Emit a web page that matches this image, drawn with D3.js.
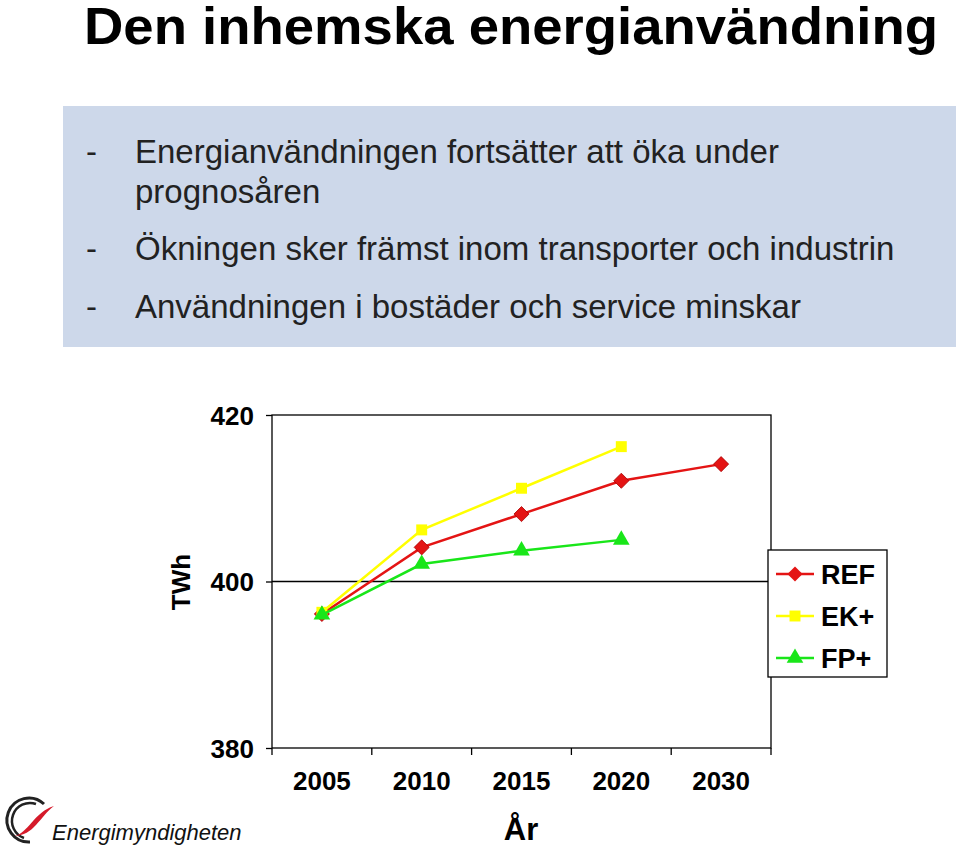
<!DOCTYPE html>
<html><head><meta charset="utf-8">
<script src="https://cdn.jsdelivr.net/npm/d3@7"></script>
<style>body{margin:0;background:#fff;font-family:Arial,"Liberation Sans",sans-serif}</style>
</head><body><div id="chart"></div>
<script>
// Data
const years = ["2005", "2010", "2015", "2020", "2030"];
const ref = [396.1, 404.1, 408.1, 412.1, 414.1];
const ekPlus = [396.3, 406.2, 411.2, 416.2];
const fpPlus = [396.0, 402.1, 403.7, 405.0];
const yTicks = [380, 400, 420];
const bullets = [
    ["Energianvändningen fortsätter att öka under", "prognosåren"],
    ["Ökningen sker främst inom transporter och industrin"],
    ["Användningen i bostäder och service minskar"]
];

const width = 960, height = 848;
const marginLeft = 272, marginRight = 189, marginTop = 415, marginBottom = 100;

const svg = d3.select("#chart").append("svg")
    .attr("width", width).attr("height", height);

// Title and text box
svg.append("text").attr("x", 84).attr("y", 44)
    .attr("font-size", 52).attr("font-weight", "bold")
    .attr("textLength", 854).attr("lengthAdjust", "spacingAndGlyphs")
    .text("Den inhemska energianvändning");
svg.append("rect").attr("x", 63).attr("y", 106).attr("width", 893).attr("height", 241).attr("fill", "#cdd8ea");
const lineY = [[163, 203], [260], [318]];
bullets.forEach((b, i) => {
    svg.append("text").attr("x", 86).attr("y", lineY[i][0]).attr("font-size", 33).attr("fill", "#222").text("-");
    b.forEach((t, j) => svg.append("text").attr("x", 135).attr("y", lineY[i][j])
        .attr("font-size", 33).attr("fill", "#222").text(t));
});

// Scales
const x = d3.scaleBand().domain(years).range([marginLeft, width - marginRight]);
const y = d3.scaleLinear().domain([380, 420]).range([height - marginBottom, marginTop]);

// Frame
svg.append("rect").attr("x", marginLeft).attr("y", marginTop)
    .attr("width", x.range()[1] - marginLeft).attr("height", y(380) - marginTop)
    .attr("fill", "none").attr("stroke", "#000").attr("stroke-width", 1.3);
svg.append("line").attr("x1", marginLeft).attr("x2", x.range()[1])
    .attr("y1", y(400)).attr("y2", y(400)).attr("stroke", "#000").attr("stroke-width", 1.3);

// Axes
svg.append("g").attr("transform", `translate(${marginLeft},0)`)
    .call(d3.axisLeft(y).tickValues(yTicks).tickSize(6).tickPadding(12))
    .call(g => g.select(".domain").remove())
    .call(g => g.selectAll("line").attr("stroke-width", 1.3))
    .call(g => g.selectAll("text").attr("font-size", 26).attr("font-weight", "bold").attr("font-family", "Arial").attr("dy", "0.35em"));
const xa = svg.append("g").attr("transform", `translate(0,${y(380)})`)
    .call(d3.axisBottom(x).tickSize(0).tickPadding(24));
xa.select(".domain").remove();
xa.selectAll("text").attr("font-size", 26).attr("font-weight", "bold").attr("font-family", "Arial");
svg.append("g").selectAll("line")
    .data(years.map(d => x(d)).concat([x.range()[1]]))
    .join("line").attr("x1", d => d).attr("x2", d => d)
    .attr("y1", y(380)).attr("y2", y(380) + 7).attr("stroke", "#000").attr("stroke-width", 1.3);

svg.append("text").attr("transform", "translate(190,582) rotate(-90)")
    .attr("text-anchor", "middle").attr("font-size", 26).attr("font-weight", "bold").text("TWh");
svg.append("text").attr("x", 521).attr("y", 840).attr("text-anchor", "middle")
    .attr("font-size", 31).attr("font-weight", "bold").text("År");

// Series
const diamond = { draw(ctx, size) { const r = Math.sqrt(size) * 0.72; ctx.moveTo(0, -r); ctx.lineTo(r, 0); ctx.lineTo(0, r); ctx.lineTo(-r, 0); ctx.closePath(); } };
const series = [
    { name: "REF", values: ref, color: "#e41414", sym: diamond, size: 110 },
    { name: "EK+", values: ekPlus, color: "#ffff00", sym: d3.symbolSquare, size: 120 },
    { name: "FP+", values: fpPlus, color: "#19e619", sym: d3.symbolTriangle, size: 120 }
];
const cx = (i) => x(years[i]) + x.bandwidth() / 2;
const line = d3.line().x((d, i) => cx(i)).y(d => y(d));
series.forEach(s => {
    svg.append("path").attr("d", line(s.values)).attr("fill", "none")
        .attr("stroke", s.color).attr("stroke-width", 2.5);
    svg.append("g").selectAll("path").data(s.values).join("path")
        .attr("transform", (d, i) => `translate(${cx(i)},${y(d)})`)
        .attr("d", d3.symbol(s.sym, s.size)).attr("fill", s.color)
        .attr("stroke", s.name === "REF" ? "#a00" : "none").attr("stroke-width", 0.8);
});

// Legend
svg.append("rect").attr("x", 768).attr("y", 550).attr("width", 119).attr("height", 127)
    .attr("fill", "#fff").attr("stroke", "#000").attr("stroke-width", 1.3);
series.forEach((s, i) => {
    const ly = 574 + i * 42;
    svg.append("line").attr("x1", 776).attr("x2", 814).attr("y1", ly).attr("y2", ly)
        .attr("stroke", s.color).attr("stroke-width", 2.5);
    svg.append("path").attr("transform", `translate(795,${ly})`)
        .attr("d", d3.symbol(s.sym, s.size)).attr("fill", s.color);
    svg.append("text").attr("x", 821).attr("y", ly).attr("dy", "0.36em")
        .attr("font-size", 27).attr("font-weight", "bold").text(s.name);
});

// Logo
const logo = svg.append("g").attr("transform", "translate(0,790)");
logo.append("path").attr("d", "M44,14 A22,22 0 1 0 30,52").attr("fill", "none").attr("stroke", "#222").attr("stroke-width", 3);
logo.append("path").attr("d", "M36,14 A16,16 0 1 0 24,48").attr("fill", "none").attr("stroke", "#222").attr("stroke-width", 2.5);
logo.append("path").attr("d", "M14,46 C28,44 34,22 54,16 C40,26 34,46 14,46 Z").attr("fill", "#d51a2a");
logo.append("text").attr("x", 52).attr("y", 50).attr("font-size", 22).attr("font-style", "italic")
    .attr("font-family", "Liberation Sans Narrow, Arial").attr("fill", "#111").text("Energimyndigheten");
</script></body></html>
